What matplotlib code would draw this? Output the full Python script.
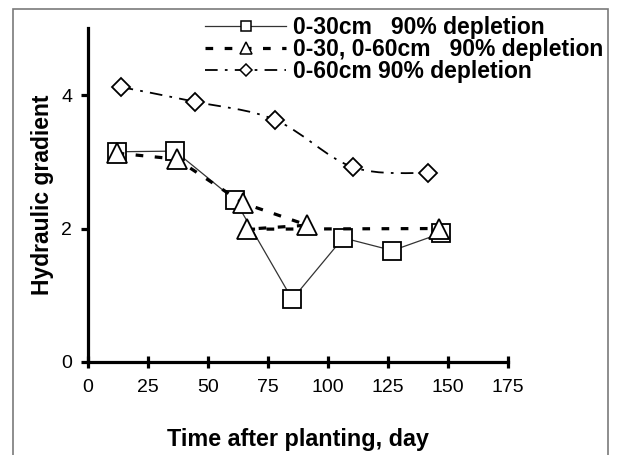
import matplotlib
matplotlib.use("Agg")
import matplotlib.pyplot as plt
from matplotlib.lines import Line2D
from matplotlib.patches import Rectangle, PathPatch
from matplotlib.path import Path

# ---- data ----
sq_x = [12.1, 36.4, 61.3, 85.2, 106.4, 126.9, 147.3]
sq_y = [3.15, 3.16, 2.43, 0.94, 1.86, 1.67, 1.93]

tri_x = [12.1, 37.1, 64.8, 91.5, 66.5, 146.2]
tri_y = [3.13, 3.04, 2.38, 2.05, 1.99, 2.00]

dia_x = [13.8, 44.7, 78.0, 110.3, 141.7]
dia_y = [4.12, 3.90, 3.63, 2.92, 2.83]

labels = ["0-30cm   90% depletion",
          "0-30, 0-60cm   90% depletion",
          "0-60cm 90% depletion"]
x_ticks = [0, 25, 50, 75, 100, 125, 150, 175]
y_ticks = [0, 2, 4]
x_label = "Time after planting, day"
y_label = "Hydraulic gradient"

plt.rcParams['font.family'] = ['Liberation Sans', 'DejaVu Sans']


def smooth_path(xs, ys):
    """Bezier path through the points (Catmull-Rom style, like a smoothed line)."""
    pts = list(zip(xs, ys))
    verts = [pts[0]]
    codes = [Path.MOVETO]
    n = len(pts)
    for i in range(n - 1):
        p0 = pts[i - 1] if i > 0 else pts[i]
        p1 = pts[i]
        p2 = pts[i + 1]
        p3 = pts[i + 2] if i + 2 < n else pts[i + 1]
        c1 = (p1[0] + (p2[0] - p0[0]) / 6, p1[1] + (p2[1] - p0[1]) / 6)
        c2 = (p2[0] - (p3[0] - p1[0]) / 6, p2[1] - (p3[1] - p1[1]) / 6)
        verts += [c1, c2, p2]
        codes += [Path.CURVE4] * 3
    return Path(verts, codes)


W, H = 617, 455
fig = plt.figure(figsize=(W / 100, H / 100), dpi=100)
ax = fig.add_axes([87.5 / W, 1 - 362 / H, (508 - 87.5) / W, (362 - 28.3) / H])

# outer frame
fig.patches.append(Rectangle((13 / W, -0.05), (608 - 13) / W, 1 - 9 / H + 0.05,
                             transform=fig.transFigure, fill=False,
                             edgecolor='#7a7a7a', linewidth=1.2, zorder=0))

dia_style = (0, (7, 4, 1.5, 4))

ax.plot(sq_x, sq_y, color='#333333', lw=0.9, marker='s', ms=12.5,
        mfc='white', mec='black', mew=1.3, zorder=3)
ax.plot(tri_x, tri_y, color='black', lw=2.3, dashes=[2.4, 3.6], marker='^',
        ms=14, mfc='white', mec='black', mew=1.3, zorder=4)
ax.add_patch(PathPatch(smooth_path(dia_x, dia_y), fill=False, edgecolor='black',
                       lw=1.3, linestyle=dia_style, zorder=2.5))
ax.plot(dia_x, dia_y, linestyle='none',
        marker='D', ms=9, mfc='white', mec='black', mew=1.3, zorder=3)

ax.set_xlim(0, 175)
ax.set_ylim(0, 5)
ax.set_xticks(x_ticks)
ax.set_yticks(y_ticks)
for s in ['top', 'right']:
    ax.spines[s].set_visible(False)
for s in ['left', 'bottom']:
    ax.spines[s].set_linewidth(2.3)
ax.tick_params(axis='x', direction='inout', length=9, width=2.3, labelsize=14, pad=8)
ax.tick_params(axis='y', direction='out', length=5, width=2.3, labelsize=14, pad=6)
ax.set_xlabel(x_label, fontsize=16.8, fontweight='bold', labelpad=23)
ax.set_ylabel(y_label, fontsize=16.5, fontweight='bold', labelpad=5)
ax.patch.set_alpha(0)

handles = [
    Line2D([], [], color='#333333', lw=0.9, marker='s', ms=7, mfc='white', mec='black', mew=1.1),
    Line2D([], [], color='black', lw=2.3, dashes=[2.4, 3.6], marker='^', ms=8, mfc='white', mec='black', mew=1.1),
    Line2D([], [], color='black', lw=1.3, linestyle=dia_style, marker='D', ms=6, mfc='white', mec='black', mew=1.1),
]
leg = fig.legend(handles, labels, loc='upper left',
                 bbox_to_anchor=(205 / W, 1 - 16 / H), frameon=False,
                 prop={'weight': 'bold', 'size': 16.5}, handlelength=3.55,
                 handletextpad=0.27, labelspacing=-0.05, borderpad=0,
                 borderaxespad=0)

fig.savefig("out.png", dpi=100)
